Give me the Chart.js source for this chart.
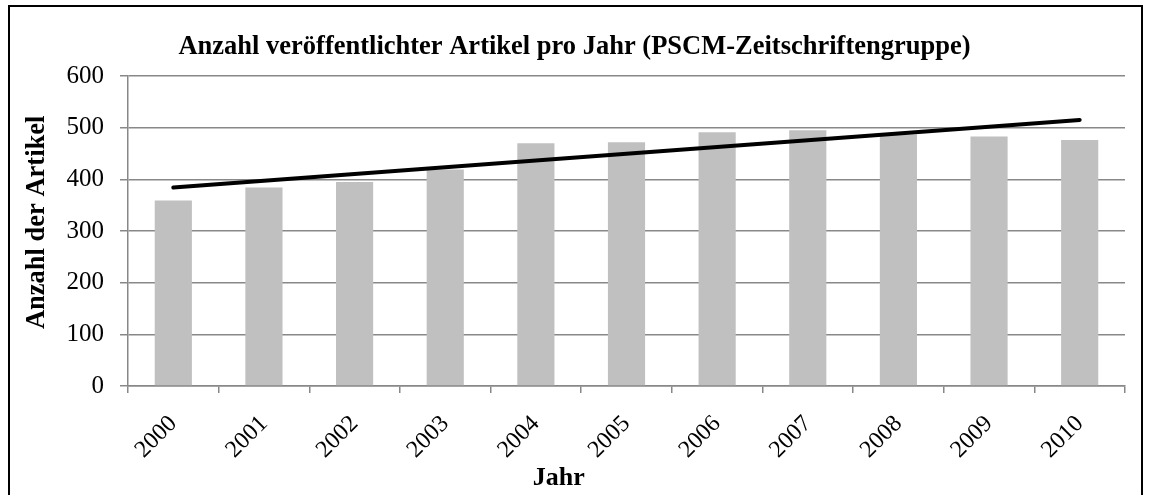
<!DOCTYPE html>
<html>
<head>
<meta charset="utf-8">
<script src="https://cdn.jsdelivr.net/npm/chart.js@4"></script>
<style>
  html, body { margin: 0; padding: 0; background: #fff; }
  #wrap { position: relative; width: 1149px; height: 495px; overflow: hidden; }
  #frame { position: absolute; left: 8px; top: 5px; width: 1135px; height: 600px;
           border: 2px solid #000; box-sizing: border-box; pointer-events: none; }
  canvas { position: absolute; left: 0; top: 0; }
</style>
</head>
<body>
<div id="wrap">
  <canvas id="c" width="1149" height="495"></canvas>
  <div id="frame"></div>
</div>
<script>
const categories = ['2000','2001','2002','2003','2004','2005','2006','2007','2008','2009','2010'];
const articles = [359, 384, 395, 419, 470, 472, 491, 495, 487, 483, 476];
// linear trend line, read at first and last year
const trend = [384, null, null, null, null, null, null, null, null, null, 515];
const yTicks = [0, 100, 200, 300, 400, 500, 600];

const titleText = 'Anzahl veröffentlichter Artikel pro Jahr (PSCM-Zeitschriftengruppe)';
const yTitle = 'Anzahl der Artikel';
const xTitle = 'Jahr';

const FONT = "'Liberation Serif', 'Times New Roman', serif";

const textPlugin = {
  id: 'texts',
  afterDraw(chart) {
    const ctx = chart.ctx;
    const a = chart.chartArea;
    ctx.save();
    ctx.fillStyle = '#000';
    ctx.textAlign = 'center';
    // chart title
    ctx.font = "bold 26.5px " + FONT;
    ctx.textBaseline = 'middle';
    ctx.fillText(titleText, chart.width / 2, 47);
    // x axis title
    ctx.font = "bold 26px " + FONT;
    ctx.textBaseline = 'alphabetic';
    ctx.fillText(xTitle, a.left + (a.right - a.left) * 0.432, 485);
    // y axis title
    ctx.font = "bold 26.5px " + FONT;
    ctx.textBaseline = 'middle';
    ctx.translate(37, a.top + (a.bottom - a.top) * 0.472);
    ctx.rotate(-Math.PI / 2);
    ctx.fillText(yTitle, 0, 0);
    ctx.restore();
  }
};

new Chart(document.getElementById('c'), {
  data: {
    labels: categories,
    datasets: [
      {
        type: 'line',
        data: trend,
        spanGaps: true,
        borderColor: '#000',
        borderWidth: 4,
        borderCapStyle: 'round',
        pointRadius: 0,
        fill: false,
        order: 0
      },
      {
        type: 'bar',
        data: articles,
        backgroundColor: '#c0c0c0',
        borderWidth: 0,
        categoryPercentage: 1.0,
        barPercentage: 0.41,
        order: 1
      }
    ]
  },
  options: {
    responsive: false,
    animation: false,
    devicePixelRatio: 1,
    layout: { padding: { left: 0, right: 24, top: 76, bottom: 0 } },
    plugins: {
      legend: { display: false },
      tooltip: { enabled: false },
      title: { display: false }
    },
    scales: {
      x: {
        grid: { offset: true, drawOnChartArea: false, drawTicks: true, tickLength: 7, color: '#888', lineWidth: 1.5 },
        border: { display: true, color: '#888', width: 1.5 },
        ticks: { color: '#000', font: { family: FONT, size: 24 }, minRotation: 45, maxRotation: 45, padding: 17, autoSkip: false },
        afterFit(s) { s.height = 109; }
      },
      y: {
        min: 0,
        max: 600,
        afterBuildTicks(s) { s.ticks = yTicks.map(v => ({ value: v })); },
        grid: { color: '#888', lineWidth: 1.5, tickLength: 8, drawTicks: true },
        border: { display: true, color: '#888', width: 1.5 },
        ticks: { color: '#000', font: { family: FONT, size: 25 }, padding: 16 },
        title: { display: false },
        afterFit(s) { s.width = 128; }
      }
    }
  },
  plugins: [textPlugin]
});
</script>
</body>
</html>
